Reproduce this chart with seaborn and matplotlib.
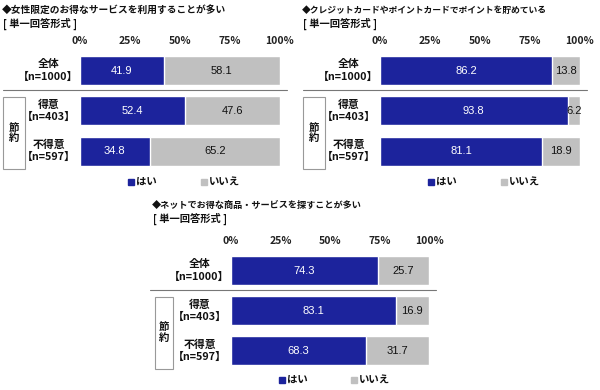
import matplotlib
matplotlib.use("Agg")
import matplotlib.pyplot as plt
import seaborn as sns
import pandas as pd
from matplotlib.patches import Rectangle
from matplotlib.lines import Line2D

sns.set_theme(style="white")
plt.rcParams['font.family'] = ['Noto Sans CJK JP', 'DejaVu Sans']

titles = ["◆女性限定のお得なサービスを利用することが多い",
          "◆クレジットカードやポイントカードでポイントを貯めている",
          "◆ネットでお得な商品・サービスを探すことが多い"]
subtitle = "[ 単一回答形式 ]"
categories = ["全体\n【n=1000】", "得意\n【n=403】", "不得意\n【n=597】"]
group_label = "節\n約"
yes_vals = [[41.9, 52.4, 34.8], [86.2, 93.8, 81.1], [74.3, 83.1, 68.3]]
no_vals = [[58.1, 47.6, 65.2], [13.8, 6.2, 18.9], [25.7, 16.9, 31.7]]
ticks = [0, 25, 50, 75, 100]
tick_labels = ["0%", "25%", "50%", "75%", "100%"]
legend_labels = ["はい", "いいえ"]

NAVY = "#1c239c"
GRAY = "#c0c0c0"
W, H = 600, 390
fig = plt.figure(figsize=(6, 3.9), dpi=100)

panels = [
    dict(ax0=80, aw=200, top=50.4, sp=40.25, ox=0, oy=0, tx=2, tfs=7.0),
    dict(ax0=380, aw=200, top=50.4, sp=40.25, ox=300, oy=0, tx=302, tfs=6.35),
    dict(ax0=231, aw=198, top=250.5, sp=40.0, ox=140, oy=195, tx=152, tfs=6.6),
]

def fx(px):
    return px / W

def fy(py):
    return 1 - py / H

for i, p in enumerate(panels):
    ah = 3 * p["sp"]
    ax = fig.add_axes([fx(p["ax0"]), fy(p["top"] + ah), p["aw"] / W, ah / H])
    df = pd.DataFrame({"cat": categories, "yes": yes_vals[i], "no": no_vals[i]})
    df["total"] = df["yes"] + df["no"]
    sns.barplot(data=df, y="cat", x="total", color=GRAY, orient="h", width=0.72,
                saturation=1, ax=ax)
    sns.barplot(data=df, y="cat", x="yes", color=NAVY, orient="h", width=0.72,
                saturation=1, ax=ax)
    ax.set_xlim(0, 100)
    ax.set_ylim(2.5, -0.5)
    ax.set_xlabel("")
    ax.set_ylabel("")
    ax.set_yticks([])
    ax.xaxis.tick_top()
    ax.set_xticks(ticks)
    ax.set_xticklabels(tick_labels, fontsize=7.5, fontweight="bold", color="#222222")
    ax.tick_params(axis="x", length=0, pad=3)
    for s in ax.spines.values():
        s.set_visible(False)
    ax.patch.set_alpha(0)
    for j in range(3):
        y = yes_vals[i][j]
        n = no_vals[i][j]
        ax.text(y / 2, j, f"{y:.1f}", ha="center", va="center", color="white",
                fontsize=8, family="Liberation Sans")
        ax.text(y + n / 2, j, f"{n:.1f}", ha="center", va="center", color="#111111",
                fontsize=8, family="Liberation Sans")
        ax.text(-31.5 * 100 / p["aw"], j, categories[j], ha="center", va="center",
                fontsize=7.8, fontweight="bold", color="#111111", linespacing=1.25)
    ox, oy = p["ox"], p["oy"]
    fig.text(fx(p["tx"]), fy(oy + 10), titles[i], ha="left", va="center",
             fontsize=p["tfs"], fontweight="bold", color="#111111")
    fig.text(fx(p["tx"] + 1), fy(oy + 24), subtitle, ha="left", va="center",
             fontsize=7.4, fontweight="bold", color="#111111")
    sep_y = p["top"] + p["sp"] * 0.98
    x_start = ox + 3 if i < 2 else ox + 10
    fig.add_artist(Line2D([fx(x_start), fx(p["ax0"] + p["aw"] + 7)], [fy(sep_y), fy(sep_y)],
                          color="#777777", lw=0.8))
    bx0 = ox + 3 if i < 2 else ox + 15
    bw = 22 if i < 2 else 18
    by0 = p["top"] + p["sp"] * 1.15
    by1 = p["top"] + p["sp"] * 2.95
    fig.add_artist(Rectangle((fx(bx0), fy(by1)), bw / W, (by1 - by0) / H,
                             fill=False, edgecolor="#999999", lw=0.8))
    fig.text(fx(bx0 + bw / 2), fy((by0 + by1) / 2), group_label, ha="center", va="center",
             fontsize=7.5, fontweight="bold", color="#111111", linespacing=1.1)
    ly = p["top"] + 3 * p["sp"] + 11 if i < 2 else 380
    lx = [p["ax0"] + p["aw"] * 0.24, p["ax0"] + p["aw"] * 0.605]
    for k, (lab, col) in enumerate(zip(legend_labels, [NAVY, GRAY])):
        fig.add_artist(Rectangle((fx(lx[k]), fy(ly + 3)), 6 / W, 6 / H, color=col))
        fig.text(fx(lx[k] + 8), fy(ly), lab, ha="left", va="center",
                 fontsize=7.5, fontweight="bold", color="#111111")

fig.savefig("out.png", dpi=100)
